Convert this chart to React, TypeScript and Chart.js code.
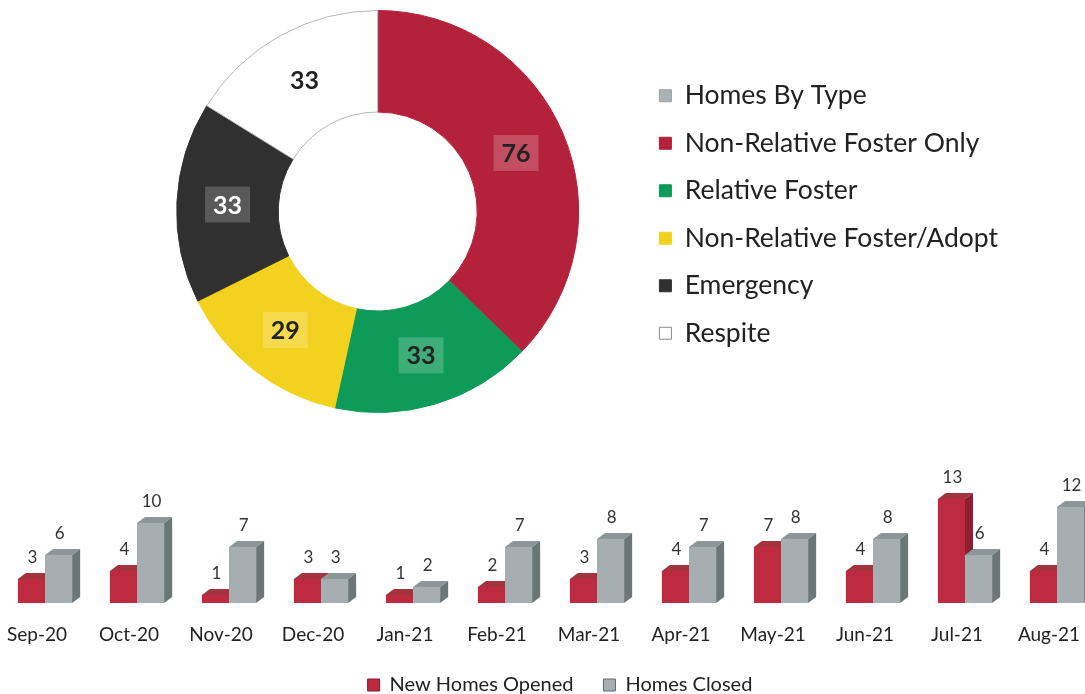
import React, { useEffect, useRef } from 'react';
import { Chart, registerables } from 'chart.js';

Chart.register(...registerables);

// ---------- Data ----------
const seriesName = 'Homes By Type';
const typeLabels = ['Non-Relative Foster Only', 'Relative Foster', 'Non-Relative Foster/Adopt', 'Emergency', 'Respite'];
const typeValues = [76, 33, 29, 33, 33];
const typeColors = ['#b4213a', '#0e9a58', '#f3d11f', '#303030', '#ffffff'];
const typeBorders = ['#b4213a', '#0e9a58', '#f3d11f', '#303030', '#b8b8b8'];

const months = ['Sep-20', 'Oct-20', 'Nov-20', 'Dec-20', 'Jan-21', 'Feb-21', 'Mar-21', 'Apr-21', 'May-21', 'Jun-21', 'Jul-21', 'Aug-21'];
const openedName = 'New Homes Opened';
const closedName = 'Homes Closed';
const opened = [3, 4, 1, 3, 1, 2, 3, 4, 7, 4, 13, 4];
const closed = [6, 10, 7, 3, 2, 7, 8, 7, 8, 8, 6, 12];

const FONT = 'Lato, "Open Sans", sans-serif';

// ---------- Plugins ----------
const donutLabels = {
  id: 'donutLabels',
  afterDatasetsDraw(chart: any) {
    const ctx = chart.ctx;
    const meta = chart.getDatasetMeta(0);
    ctx.save();
    ctx.font = `bold 25px ${FONT}`;
    ctx.textAlign = 'center';
    ctx.textBaseline = 'middle';
    meta.data.forEach((arc: any, i: number) => {
      const p = arc.tooltipPosition(true);
      const txt = String(typeValues[i]);
      const w = ctx.measureText(txt).width + 16;
      const h = 36;
      if (i !== typeValues.length - 1) {
        ctx.fillStyle = 'rgba(255,255,255,0.2)';
        ctx.fillRect(p.x - w / 2, p.y - h / 2, w, h);
      }
      ctx.fillStyle = i === 3 ? '#ffffff' : '#222222';
      ctx.fillText(txt, p.x, p.y + 1);
    });
    ctx.restore();
  },
};

const DX = 8;
const DY = 6;
const faceColors = [
  { top: '#a3343d', side: '#8e1f30' },
  { top: '#8d979a', side: '#6b7679' },
];

function drawFaces(ctx: any, el: any, c: { top: string; side: string }) {
  const { x, y, base, width } = el.getProps(['x', 'y', 'base', 'width'], true);
  const l = x - width / 2;
  const r = x + width / 2;
  ctx.fillStyle = c.top;
  ctx.beginPath();
  ctx.moveTo(l, y);
  ctx.lineTo(l + DX, y - DY);
  ctx.lineTo(r + DX, y - DY);
  ctx.lineTo(r, y);
  ctx.closePath();
  ctx.fill();
  ctx.fillStyle = c.side;
  ctx.beginPath();
  ctx.moveTo(r, y);
  ctx.lineTo(r + DX, y - DY);
  ctx.lineTo(r + DX, base - DY);
  ctx.lineTo(r, base);
  ctx.closePath();
  ctx.fill();
}

const bar3d = {
  id: 'bar3d',
  afterDatasetsDraw(chart: any) {
    const ctx = chart.ctx;
    const m0 = chart.getDatasetMeta(0);
    const m1 = chart.getDatasetMeta(1);
    ctx.save();
    m0.data.forEach((el0: any, i: number) => {
      const el1 = m1.data[i];
      drawFaces(ctx, el0, faceColors[0]);
      el1.draw(ctx, chart.chartArea);
      drawFaces(ctx, el1, faceColors[1]);
    });
    ctx.font = `17px ${FONT}`;
    ctx.fillStyle = '#333333';
    ctx.textAlign = 'center';
    ctx.textBaseline = 'middle';
    chart.data.datasets.forEach((ds: any, di: number) => {
      const meta = chart.getDatasetMeta(di);
      meta.data.forEach((el: any, i: number) => {
        const { x, y } = el.getProps(['x', 'y'], true);
        ctx.fillText(String(ds.data[i]), x + 1, y - DY - 15);
      });
    });
    ctx.restore();
  },
};

export default function App() {
  const donutRef = useRef<HTMLCanvasElement>(null);
  const barRef = useRef<HTMLCanvasElement>(null);

  useEffect(() => {
    const donut = new Chart(donutRef.current as HTMLCanvasElement, {
      type: 'doughnut',
      data: {
        labels: typeLabels,
        datasets: [
          {
            label: seriesName,
            data: typeValues,
            backgroundColor: typeColors,
            borderColor: typeBorders,
            borderWidth: 1,
          },
        ],
      },
      options: {
        responsive: false,
        animation: false,
        cutout: '49.5%',
        layout: { padding: { left: 117, right: 77, top: 10, bottom: 0 } },
        plugins: {
          tooltip: { enabled: false },
          legend: {
            position: 'right',
            align: 'center',
            title: { display: true, text: ' ', font: { size: 5 }, padding: 0 },
            labels: {
              boxWidth: 12,
              boxHeight: 12,
              padding: 21,
              color: '#222222',
              font: { family: FONT, size: 26.5 },
              generateLabels: () => [
                { text: seriesName, fillStyle: '#aab1b4', strokeStyle: '#9aa1a4', lineWidth: 1, hidden: false, fontColor: '#222222' },
                ...typeLabels.map((t, i) => ({
                  text: t,
                  fillStyle: typeColors[i],
                  strokeStyle: i === 4 ? '#888888' : typeColors[i],
                  lineWidth: 1,
                  hidden: false,
                  index: i,
                  fontColor: '#222222',
                })),
              ],
            },
          },
        },
      },
      plugins: [donutLabels],
    });

    const bar = new Chart(barRef.current as HTMLCanvasElement, {
      type: 'bar',
      data: {
        labels: months,
        datasets: [
          {
            label: openedName,
            data: opened,
            backgroundColor: '#be2a40',
            borderWidth: 0,
            barPercentage: 1,
            categoryPercentage: 0.59,
          },
          {
            label: closedName,
            data: closed,
            backgroundColor: '#a6aeb1',
            borderWidth: 0,
            barPercentage: 1,
            categoryPercentage: 0.59,
          },
        ],
      },
      options: {
        responsive: false,
        animation: false,
        layout: { padding: { top: 35, left: 0, right: 0, bottom: 0 } },
        scales: {
          x: {
            grid: { display: false, drawTicks: false },
            border: { display: false },
            ticks: { padding: 20, labelOffset: -8, color: '#222222', font: { family: FONT, size: 19 }, maxRotation: 0, autoSkip: false },
            afterFit: (scale: any) => {
              scale.height = 42;
            },
          },
          y: {
            display: true,
            position: 'right',
            min: 0,
            max: 16,
            grid: { display: false, drawTicks: false },
            border: { display: false },
            ticks: { display: false },
            afterFit: (scale: any) => {
              scale.width = 22;
            },
          },
        },
        plugins: {
          tooltip: { enabled: false },
          legend: {
            position: 'bottom',
            labels: {
              boxWidth: 12,
              boxHeight: 12,
              padding: 30,
              color: '#222222',
              font: { family: FONT, size: 20 },
              generateLabels: () => [
                { text: openedName, fillStyle: '#be2a40', strokeStyle: '#7d1a2a', lineWidth: 1, hidden: false, datasetIndex: 0, fontColor: '#222222' },
                { text: closedName, fillStyle: '#a6aeb1', strokeStyle: '#5f6a6e', lineWidth: 1, hidden: false, datasetIndex: 1, fontColor: '#222222' },
              ],
            },
          },
        },
      },
      plugins: [bar3d],
    });

    return () => {
      donut.destroy();
      bar.destroy();
    };
  }, []);

  return (
    <div style={{ position: 'fixed', left: 0, top: 0, width: 1085, height: 694, overflow: 'hidden', background: '#ffffff' }}>
      <canvas
        ref={donutRef}
        width={1085}
        height={413}
        style={{ position: 'absolute', left: 0, top: 0, width: 1085, height: 413 }}
      />
      <canvas
        ref={barRef}
        width={1130}
        height={265}
        style={{ position: 'absolute', left: -5, top: 440, width: 1130, height: 265 }}
      />
    </div>
  );
}
